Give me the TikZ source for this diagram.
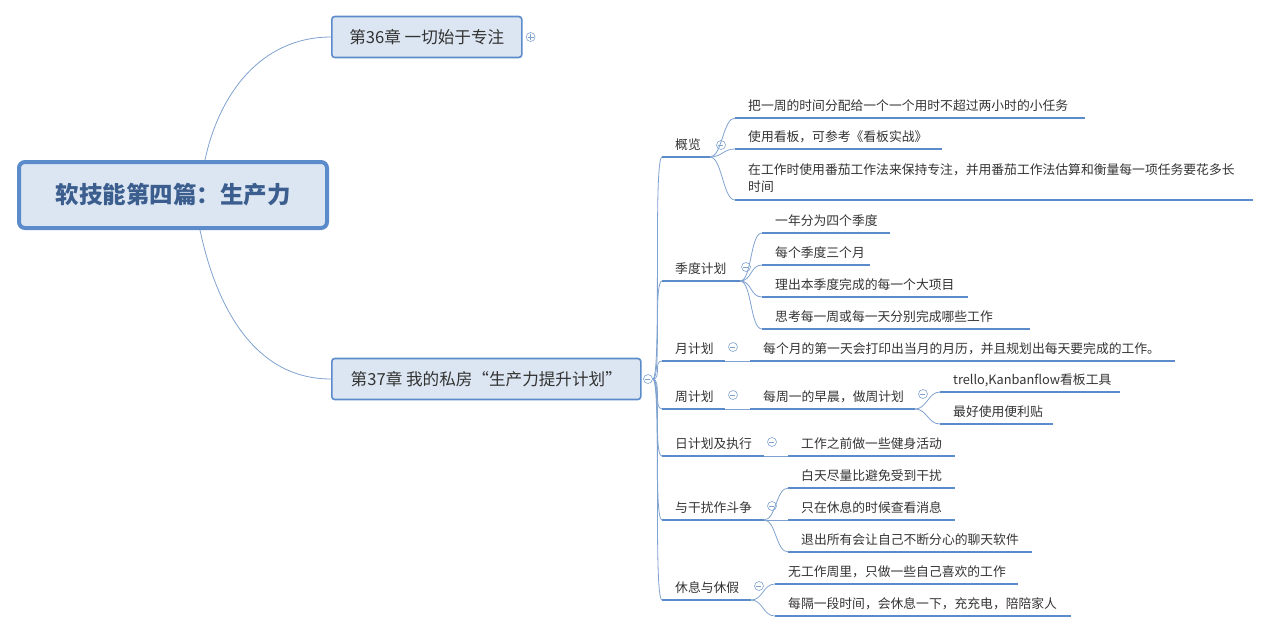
\documentclass[tikz,border=0pt]{standalone}
\usepackage{fontspec}
\setmainfont{Noto Sans CJK SC}
\usetikzlibrary{positioning}
\definecolor{mapblue}{HTML}{5B8BCB}
\definecolor{mapline}{HTML}{7FA2CF}
\definecolor{mapfill}{HTML}{DCE6F2}
\definecolor{maptext}{HTML}{333333}
\definecolor{roottext}{HTML}{3B5E8E}
\tikzset{
  chapter/.style={draw=mapblue,fill=mapfill,line width=1.6,rounded corners=3,
    minimum height=41,inner xsep=13,anchor=west,text=maptext,font=\fontsize{16.6}{19}\selectfont},
  label/.style={anchor=base west,inner sep=0,text=maptext,font=\fontsize{12.8}{17}\selectfont},
  uline/.style={mapblue,line width=2.6},
  branch/.style={mapline,line width=0.8},
}
% sub topic: name, x start, x end, underline y, text
\newcommand\topic[5]{%
  \coordinate (#1-s) at (#2,#4);
  \coordinate (#1-e) at (#3,#4);
  \node[label] (#1) at (#2+13,#4-8) {#5};
  \draw[uline] (#1-s) -- (#1-e);
}
\newcommand\fold[3]{%
  \node[circle,draw=mapline,line width=0.6,minimum size=9,inner sep=0] (#1) at (#2,#3) {};
  \draw[mapline,line width=0.7] (#1.west) ++(2,0) -- ++(5,0);
}
\begin{document}
\begin{tikzpicture}[x=1pt,y=-1pt]
  \useasboundingbox (0,0) rectangle (1271,633);
  % root and chapters
  \node[draw=mapblue,fill=mapfill,line width=4,rounded corners=6,minimum width=308,minimum height=66,
    text=roottext,font=\fontsize{23.5}{26}\selectfont\bfseries] (root) at (173,195) {软技能第四篇：生产力};
  \node[chapter,minimum width=190] (ch36) at (331,37) {第36章 一切始于专注};
  \node[chapter,minimum width=309] (ch37) at (331,379) {第37章 我的私房“生产力提升计划”};
  \node[circle,draw=mapline,line width=0.6,minimum size=9,inner sep=0] (ch36f) at (ch36.east) [xshift=8] {};
  \draw[mapline,line width=0.7] (ch36f.center) ++(-3,0) -- ++(6,0) (ch36f.center) ++(0,-3) -- ++(0,6);
  \fold{ch37f}{648}{379}
  \draw[branch] (205,160) to[out=78,in=180] (ch36.west);
  \draw[branch] (200,230) to[out=-78,in=180] (ch37.west);

  % second level
  \topic{over}{662}{710}{157}{概览}
  \topic{quarter}{662}{740}{281}{季度计划}
  \topic{month}{662}{725}{361}{月计划}
  \topic{week}{662}{725}{409}{周计划}
  \topic{day}{662}{764}{456}{日计划及执行}
  \topic{fight}{662}{764}{520}{与干扰作斗争}
  \topic{rest}{662}{751}{600}{休息与休假}
  \foreach \t in {over,quarter,month,week,day,fight,rest}
    \draw[branch] (ch37f.east) to[out=0,in=180,distance=9] (\t-s);
  \fold{overf}{721}{145}
  \fold{quarterf}{746}{267}
  \fold{monthf}{733}{347}
  \fold{weekf}{733}{395}
  \fold{dayf}{772}{442}
  \fold{fightf}{772}{506}
  \fold{restf}{759}{586}

  % overview
  \topic{o1}{735}{1085}{118}{把一周的时间分配给一个一个用时不超过两小时的小任务}
  \topic{o2}{735}{942}{149}{使用看板，可参考《看板实战》}
  \coordinate (o3-s) at (735,200);
  \coordinate (o3-e) at (1253,200);
  \node[label,align=left] (o3) at (748,191) {在工作时使用番茄工作法来保持专注，并用番茄工作法估算和衡量每一项任务要花多长\\时间};
  \draw[uline] (o3-s) -- (o3-e);
  \foreach \t in {o1,o2,o3}
    \draw[branch] (over-e) to[out=0,in=180,distance=12] (\t-s);

  % quarter
  \topic{q1}{762}{890}{233}{一年分为四个季度}
  \topic{q2}{762}{870}{265}{每个季度三个月}
  \topic{q3}{762}{968}{297}{理出本季度完成的每一个大项目}
  \topic{q4}{762}{1030}{329}{思考每一周或每一天分别完成哪些工作}
  \foreach \t in {q1,q2,q3,q4}
    \draw[branch] (quarter-e) to[out=0,in=180,distance=12] (\t-s);

  % month, week, day
  \topic{m1}{750}{1175}{361}{每个月的第一天会打印出当月的月历，并且规划出每天要完成的工作。}
  \draw[branch] (month-e) -- (m1-s);
  \topic{w1}{750}{915}{409}{每周一的早晨，做周计划}
  \draw[branch] (week-e) -- (w1-s);
  \fold{w1f}{923}{394}
  \topic{w2}{940}{1120}{392}{trello,Kanbanflow看板工具}
  \topic{w3}{940}{1053}{424}{最好使用便利贴}
  \foreach \t in {w2,w3}
    \draw[branch] (w1-e) to[out=0,in=180,distance=12] (\t-s);
  \topic{d1}{788}{955}{456}{工作之前做一些健身活动}
  \draw[branch] (day-e) -- (d1-s);

  % fight
  \topic{f1}{788}{955}{488}{白天尽量比避免受到干扰}
  \topic{f2}{788}{955}{520}{只在休息的时候查看消息}
  \topic{f3}{788}{1032}{552}{退出所有会让自己不断分心的聊天软件}
  \foreach \t in {f1,f2,f3}
    \draw[branch] (fight-e) to[out=0,in=180,distance=12] (\t-s);

  % rest
  \topic{r1}{775}{1018}{584}{无工作周里，只做一些自己喜欢的工作}
  \topic{r2}{775}{1071}{616}{每隔一段时间，会休息一下，充充电，陪陪家人}
  \foreach \t in {r1,r2}
    \draw[branch] (rest-e) to[out=0,in=180,distance=12] (\t-s);
\end{tikzpicture}
\end{document}
